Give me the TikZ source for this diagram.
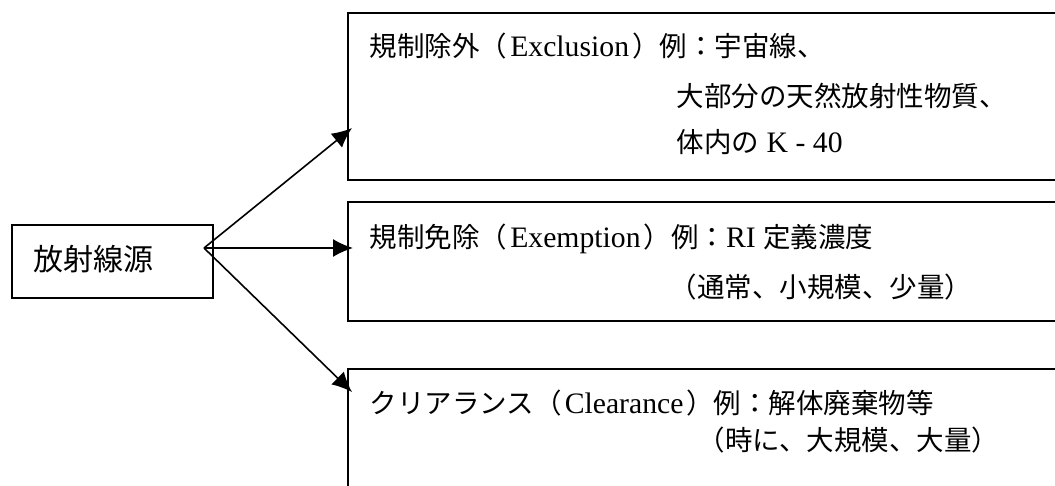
\documentclass[tikz,border=0pt]{standalone}
\usepackage{fontspec}
\setmainfont{Liberation Serif}[Scale=1.08]
\newfontfamily\cjk{Noto Sans CJK JP}
\usetikzlibrary{arrows.meta,calc}
\begin{document}
\begin{tikzpicture}[x=1pt,y=-1pt,line width=1.6pt,
  box/.style={draw,rectangle,anchor=north west,inner sep=0pt},
  txt/.style={anchor=base west,inner sep=0pt,font=\fontsize{27.5}{33}\selectfont},
  arr/.style={-{Latex[length=20pt,width=18pt]}}]
\useasboundingbox (0,0) rectangle (1055,486);
\clip (0,0) rectangle (1055,486);
% source
\node[box,minimum width=201pt,minimum height=73pt] (src) at (11,224) {};
\node[txt,font=\fontsize{30}{36}\selectfont\cjk] (srct) at (33,271) {放射線源};
% boxes
\node[box,minimum width=720pt,minimum height=167pt] (box1) at (347,12) {};
\node[box,minimum width=720pt,minimum height=119pt] (box2) at (347,201) {};
\node[box,minimum width=720pt,minimum height=140pt] (box3) at (347,368) {};
% texts
\node[txt] (a1) at (369,57) {{\cjk 規制除外（}\hspace{3pt}Exclusion\hspace{3pt}{\cjk ）例：宇宙線、}};
\node[txt] (a2) at (676,107) {{\cjk 大部分の天然放射性物質、}};
\node[txt] (a3) at (676,153) {{\cjk 体内の} K - 40};
\node[txt] (b1) at (369,248) {{\cjk 規制免除（}\hspace{3pt}Exemption\hspace{3pt}{\cjk ）例：}RI {\cjk 定義濃度}};
\node[txt] (b2) at (669,298) {{\cjk （通常、小規模、少量）}};
\node[txt] (c1) at (369,413) {{\cjk クリアランス（}\hspace{3pt}Clearance\hspace{3pt}{\cjk ）例：解体廃棄物等}};
\node[txt] (c2) at (697,450) {{\cjk （時に、大規模、大量）}};
% connectors
\coordinate (hub) at (204,248);
\draw[arr] (hub) -- ($(box1.north west)+(5,116)$);
\draw[arr] (hub) -- ($(box2.north west)+(6,47)$);
\draw[arr] (hub) -- ($(box3.north west)+(5,24)$);
\end{tikzpicture}
\end{document}
